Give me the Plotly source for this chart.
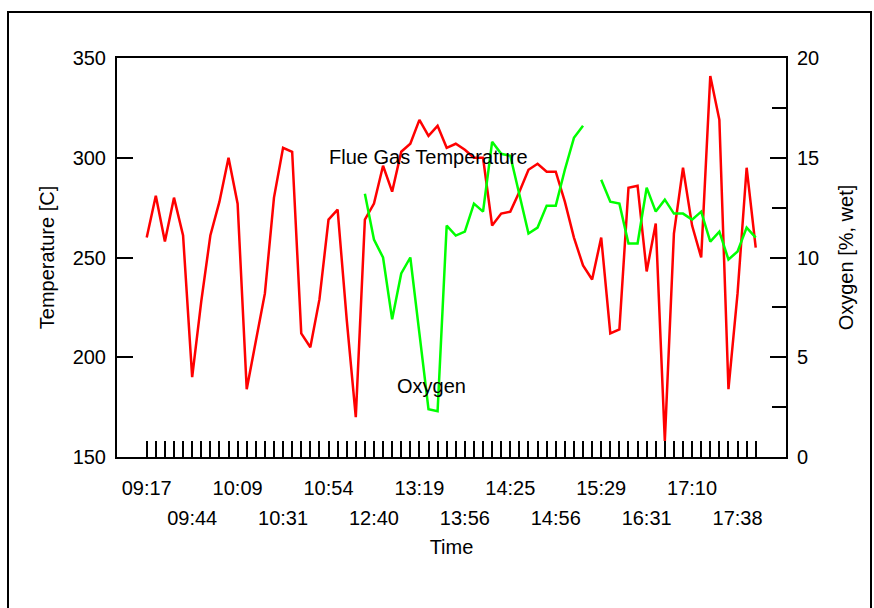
import plotly.graph_objects as go

# ---- data -----------------------------------------------------------------
sample_index = list(range(68))

flue_gas_temperature = [
    260, 281, 258, 280, 261, 190, 228, 261, 278, 300,
    277, 184, 208, 232, 280, 305, 303, 212, 205, 229,
    269, 274, 219, 170, 269, 277, 296, 283, 303, 307,
    319, 311, 316, 305, 307, 304, 300, 300, 266, 272,
    273, 283, 294, 297, 293, 293, 278, 260, 246, 239,
    260, 212, 214, 285, 286, 243, 267, 158, 262, 295,
    266, 250, 341, 319, 184, 232, 295, 255,
]

oxygen = [
    None, None, None, None, None, None, None, None, None, None,
    None, None, None, None, None, None, None, None, None, None,
    None, None, None, None, 13.2, 10.9, 10.0, 6.9, 9.2, 10.0,
    6.2, 2.4, 2.3, 11.6, 11.1, 11.3, 12.7, 12.3, 15.8, 15.2,
    15.1, 13.2, 11.2, 11.5, 12.6, 12.6, 14.4, 16.0, 16.6, None,
    13.9, 12.8, 12.7, 10.7, 10.7, 13.5, 12.3, 12.9, 12.2, 12.2,
    11.9, 12.3, 10.8, 11.3, 9.9, 10.3, 11.5, 11.0,
]

tick_labels = ["09:17", "09:44", "10:09", "10:31", "10:54", "12:40", "13:19",
               "13:56", "14:25", "14:56", "15:29", "16:31", "17:10", "17:38"]
tick_positions = list(range(0, 70, 5))

temp_ticks = [150, 200, 250, 300, 350]
oxy_ticks = [0, 5, 10, 15, 20]

# upper row of time labels (every other labelled tick); blank elsewhere
upper = dict(zip(tick_positions[0::2], tick_labels[0::2]))
upper_text = [upper.get(i, "") for i in sample_index]

# ---- figure ---------------------------------------------------------------
FONT = "Liberation Sans, Arial, sans-serif"
FS = 20
LW = 2.5

fig = go.Figure()
fig.add_trace(go.Scatter(x=sample_index, y=flue_gas_temperature, mode="lines",
                         line=dict(color="#ff0000", width=LW), yaxis="y",
                         name="Flue Gas Temperature", showlegend=False))
fig.add_trace(go.Scatter(x=sample_index, y=oxygen, mode="lines",
                         line=dict(color="#00ff00", width=LW), yaxis="y2",
                         name="Oxygen", showlegend=False))
# invisible trace to activate the second x axis (lower row of labels)
fig.add_trace(go.Scatter(x=sample_index, y=flue_gas_temperature, mode="lines",
                         line=dict(width=0), opacity=0, xaxis="x2", yaxis="y",
                         hoverinfo="skip", showlegend=False))

xr = [-3.27, 70.33]

fig.update_layout(
    width=874, height=608,
    margin=dict(l=117, r=88, t=58, b=151, autoexpand=False),
    paper_bgcolor="white", plot_bgcolor="white",
    font=dict(family=FONT, size=FS, color="black"),
    xaxis=dict(
        range=xr, showgrid=False, zeroline=False,
        showline=True, linecolor="black", linewidth=2, mirror=True,
        tickvals=sample_index, ticktext=upper_text,
        ticks="inside", ticklen=16, tickwidth=2, tickcolor="black",
        ticklabelstandoff=12,
        tickfont=dict(size=FS),
    ),
    xaxis2=dict(
        range=xr, overlaying="x", anchor="y", side="bottom",
        showgrid=False, zeroline=False, showline=False,
        tickvals=tick_positions[1::2], ticktext=tick_labels[1::2],
        ticks="", ticklabelstandoff=47,
        tickfont=dict(size=FS),
        title=dict(text="Time", standoff=11, font=dict(size=FS)),
    ),
    yaxis=dict(
        range=[150, 350], showgrid=False, zeroline=False,
        showline=True, linecolor="black", linewidth=2,
        tickvals=temp_ticks, ticks="inside", ticklen=16, tickwidth=2,
        tickcolor="black", ticklabelstandoff=5,
        title=dict(text="Temperature [C]", standoff=13, font=dict(size=FS)),
    ),
    yaxis2=dict(
        range=[0, 20], overlaying="y", side="right", anchor="x",
        showgrid=False, zeroline=False,
        showline=True, linecolor="black", linewidth=2,
        tickvals=oxy_ticks, ticks="inside", ticklen=16, tickwidth=2,
        tickcolor="black", ticklabelstandoff=5,
        minor=dict(dtick=2.5, tick0=0, ticks="inside", ticklen=14,
                   tickwidth=2, tickcolor="black", showgrid=False),
        title=dict(text="Oxygen [%, wet]", standoff=21, font=dict(size=FS)),
    ),
    annotations=[
        dict(text="Flue Gas Temperature", x=31.0, y=300.4, xref="x", yref="y",
             showarrow=False, font=dict(size=FS), xanchor="center", yanchor="middle"),
        dict(text="Oxygen", x=31.3, y=185.5, xref="x", yref="y",
             showarrow=False, font=dict(size=FS), xanchor="center", yanchor="middle"),
    ],
    shapes=[
        dict(type="rect", xref="paper", yref="paper",
             x0=(8 - 117) / 669, x1=(871 - 117) / 669,
             y0=(457 - 640) / 399, y1=(457 - 12) / 399,
             line=dict(color="black", width=2), fillcolor="rgba(0,0,0,0)",
             layer="below"),
    ],
)

fig.write_html("out.html", config={"displayModeBar": False},
               post_script="document.body.style.margin='0';")
